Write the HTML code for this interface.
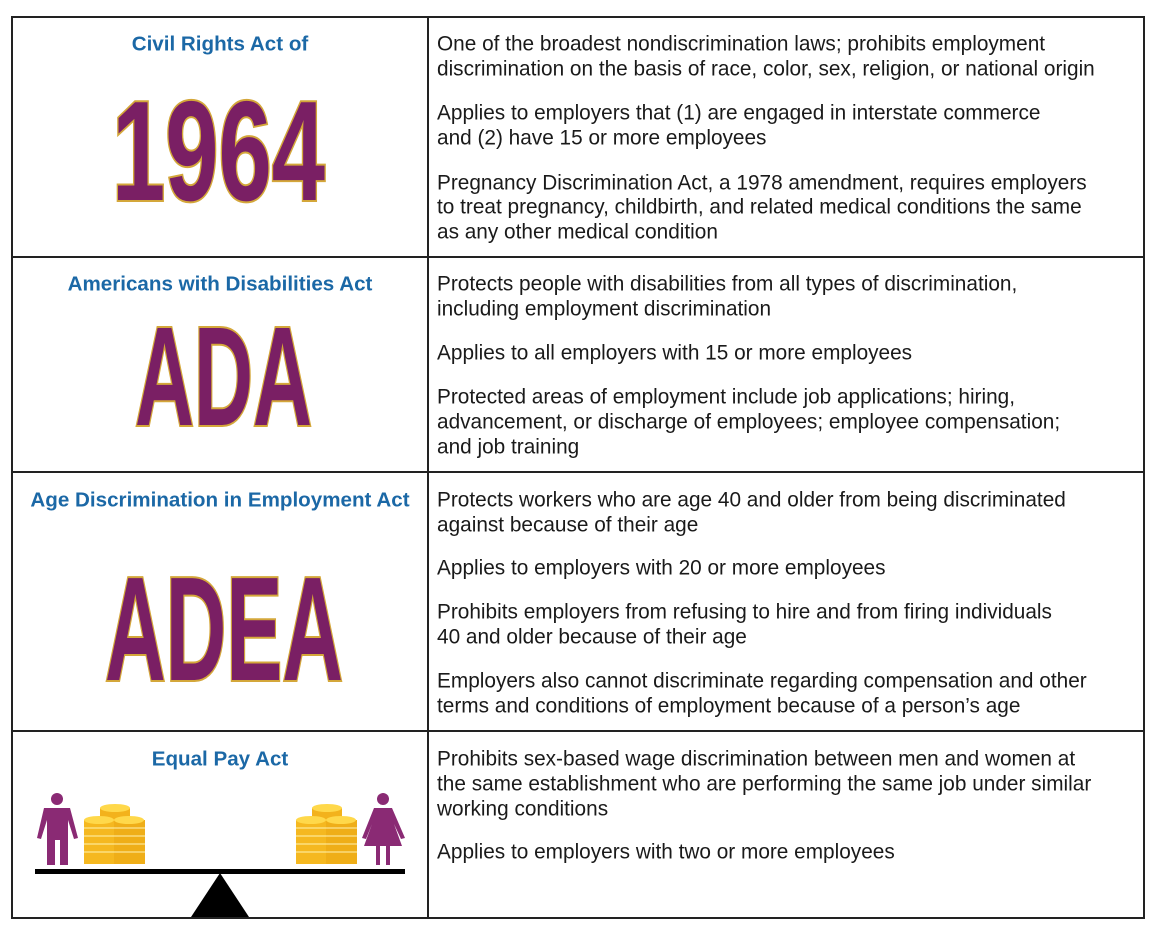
<!DOCTYPE html>
<html><head><meta charset="utf-8"><style>
html,body{margin:0;padding:0;background:#fff;}
svg{display:block;}
.t{font-family:"Liberation Sans",sans-serif;font-size:20.8px;fill:#1a1a1a;}
.h{font-family:"Liberation Sans",sans-serif;font-size:20.6px;font-weight:bold;fill:#1b68a6;}
.big{font-family:"Liberation Sans Narrow","Liberation Sans",sans-serif;font-weight:bold;fill:#7a1f64;stroke:#d4a73a;stroke-width:4;paint-order:stroke;}
</style></head><body>
<svg width="1159" height="934" viewBox="0 0 1159 934">
<rect x="0" y="0" width="1159" height="934" fill="#fff"/>
<g stroke="#222" stroke-width="2" fill="none">
<rect x="12" y="17" width="1132" height="901"/>
<line x1="428" y1="17" x2="428" y2="918"/>
<line x1="12" y1="257" x2="1144" y2="257"/>
<line x1="12" y1="472" x2="1144" y2="472"/>
<line x1="12" y1="731" x2="1144" y2="731"/>
</g>
<g dominant-baseline="central" text-anchor="middle">
<text class="h" x="220" y="44">Civil Rights Act of</text>
<text class="h" x="220" y="284">Americans with Disabilities Act</text>
<text class="h" x="220" y="500">Age Discrimination in Employment Act</text>
<text class="h" x="220" y="759">Equal Pay Act</text>
</g>
<text class="big" x="112" y="200" font-size="142" textLength="213" lengthAdjust="spacingAndGlyphs">1964</text>
<text class="big" x="135" y="425" font-size="141" textLength="177" lengthAdjust="spacingAndGlyphs">ADA</text>
<text class="big" x="105" y="680" font-size="148" textLength="238" lengthAdjust="spacingAndGlyphs">ADEA</text>
<g>
<g fill="#8a2a74">
<circle cx="57" cy="799" r="6"/>
<path d="M44 808 L70 808 L78 838 L74 839 L68 820 L68 865 L60 865 L60 840 L55 840 L55 865 L47 865 L47 820 L41 839 L37 838 Z"/>
</g>
<g fill="#8a2a74">
<circle cx="383" cy="799" r="6"/>
<path d="M374 808 L392 808 L405 838 L401 839 L394 824 L402 846 L390 846 L390 865 L386 865 L386 846 L380 846 L380 865 L376 865 L376 846 L364 846 L372 824 L366 839 L362 838 Z"/>
</g>
<g>
<rect x="100" y="808" width="30" height="30" fill="#f3b21c"/><ellipse cx="115" cy="808" rx="15" ry="4" fill="#ffd84a"/>
<rect x="84" y="820" width="30" height="44" fill="#f5b820"/><ellipse cx="99" cy="820" rx="15" ry="4" fill="#ffd84a"/>
<rect x="114" y="820" width="31" height="44" fill="#efae18"/><ellipse cx="129" cy="820" rx="15" ry="4" fill="#ffd84a"/>
<rect x="312" y="808" width="30" height="30" fill="#f3b21c"/><ellipse cx="327" cy="808" rx="15" ry="4" fill="#ffd84a"/>
<rect x="296" y="820" width="30" height="44" fill="#f5b820"/><ellipse cx="311" cy="820" rx="15" ry="4" fill="#ffd84a"/>
<rect x="326" y="820" width="31" height="44" fill="#efae18"/><ellipse cx="341" cy="820" rx="15" ry="4" fill="#ffd84a"/>
<g stroke="#fff3b0" stroke-width="1">
<line x1="84" y1="828" x2="145" y2="828"/><line x1="84" y1="836" x2="145" y2="836"/><line x1="84" y1="844" x2="145" y2="844"/><line x1="84" y1="852" x2="145" y2="852"/>
<line x1="296" y1="828" x2="357" y2="828"/><line x1="296" y1="836" x2="357" y2="836"/><line x1="296" y1="844" x2="357" y2="844"/><line x1="296" y1="852" x2="357" y2="852"/>
</g>
</g>
<rect x="35" y="869" width="370" height="5" fill="#000"/>
<polygon points="220,873 249,917 191,917" fill="#000"/>
</g>
<g class="t" dominant-baseline="central">
<text x="437" y="44">One of the broadest nondiscrimination laws; prohibits employment</text>
<text x="437" y="69">discrimination on the basis of race, color, sex, religion, or national origin</text>
<text x="437" y="113">Applies to employers that (1) are engaged in interstate commerce</text>
<text x="437" y="138">and (2) have 15 or more employees</text>
<text x="437" y="183">Pregnancy Discrimination Act, a 1978 amendment, requires employers</text>
<text x="437" y="207">to treat pregnancy, childbirth, and related medical conditions the same</text>
<text x="437" y="232">as any other medical condition</text>
<text x="437" y="284">Protects people with disabilities from all types of discrimination,</text>
<text x="437" y="309">including employment discrimination</text>
<text x="437" y="353">Applies to all employers with 15 or more employees</text>
<text x="437" y="397">Protected areas of employment include job applications; hiring,</text>
<text x="437" y="422">advancement, or discharge of employees; employee compensation;</text>
<text x="437" y="447">and job training</text>
<text x="437" y="500">Protects workers who are age 40 and older from being discriminated</text>
<text x="437" y="525">against because of their age</text>
<text x="437" y="568">Applies to employers with 20 or more employees</text>
<text x="437" y="612">Prohibits employers from refusing to hire and from firing individuals</text>
<text x="437" y="637">40 and older because of their age</text>
<text x="437" y="681">Employers also cannot discriminate regarding compensation and other</text>
<text x="437" y="706">terms and conditions of employment because of a person’s age</text>
<text x="437" y="759">Prohibits sex-based wage discrimination between men and women at</text>
<text x="437" y="784">the same establishment who are performing the same job under similar</text>
<text x="437" y="809">working conditions</text>
<text x="437" y="852">Applies to employers with two or more employees</text>
</g>
</svg>
</body></html>
